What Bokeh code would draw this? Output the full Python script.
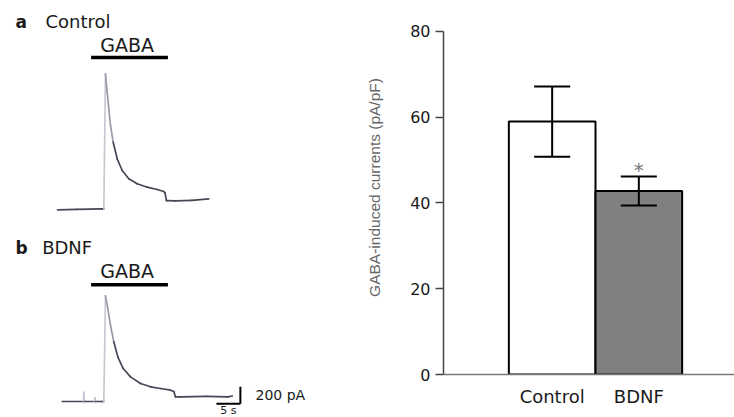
from bokeh.plotting import figure
from bokeh.models import Range1d, Label, FixedTicker
from bokeh.layouts import row
from bokeh.embed import file_html
from bokeh.resources import INLINE

# ---------------- data ----------------
# Whole-cell traces: time (s) and current (pA)
TRACE_A_T = [0.0, 4.0, 9.3, 9.65, 10.0, 10.35, 10.69, 11.04, 11.6, 12.44, 13.48,
             14.85, 16.6, 18.69, 20.77, 22.15, 22.4, 22.7, 24.6, 28.0, 31.5]
TRACE_A_I = [0, 5, 10, 10, 1600, 1383, 1188, 992, 795, 600, 462,
             365, 306, 266, 239, 215, 200, 109, 105, 110, 129]

TRACE_B_T = [1.0, 5.4, 5.5, 5.6, 7.7, 7.8, 7.9, 9.3, 9.65, 10.0, 10.48, 11.04,
             11.73, 12.56, 13.69, 15.21, 17.29, 19.38, 21.46, 23.54, 24.23,
             24.58, 25.6, 31.0, 35.5, 36.4]
TRACE_B_I = [0, 0, 109, 0, 0, 44, 0, 0, 0, 1243, 1094, 897,
             702, 526, 388, 290, 212, 173, 153, 133, 118,
             55, 55, 60, 55, 65]

GABA_WINDOW = [7.0, 23.0]     # s, drug application bar
SCALE_T = 5                   # s
SCALE_I = 200                 # pA

# Bar chart
CATEGORIES = ["Control", "BDNF"]
MEANS = [59.0, 42.8]
SEMS = [8.2, 3.4]
Y_TICKS = [0, 20, 40, 60, 80]

# ---------------- styles ----------------
DARK = "#474755"
MID = "#9a9aa8"
LIGHT = "#c8c8d2"
TXT = "#1a1a1a"
SANS = "DejaVu Sans"

# ---------------- left panel: traces ----------------
left = figure(width=340, height=417, output_backend="svg", toolbar_location=None,
              x_range=Range1d(-11.875, 58.958), y_range=Range1d(-2443.5, 2462.4),
              x_axis_location=None, y_axis_location=None, min_border=0)
left.frame_align = False
left.extra_y_ranges = {"b": Range1d(-188.2, 4717.6)}
left.grid.visible = False
left.outline_line_color = None


def seg_colors(n, mid_rng, light_rngs):
    cols = []
    for i in range(n - 1):
        c = DARK
        if mid_rng[0] <= i < mid_rng[1]:
            c = MID
        for a, b in light_rngs:
            if a <= i < b:
                c = LIGHT
        cols.append(c)
    return cols


def draw_trace(t, cur, cols, rname="default"):
    left.segment(x0=t[:-1], y0=cur[:-1], x1=t[1:], y1=cur[1:],
                 line_color=cols, line_width=1.7, line_cap="round",
                 y_range_name=rname)


draw_trace(TRACE_A_T, TRACE_A_I, seg_colors(len(TRACE_A_T), (4, 8), [(3, 4)]))
draw_trace(TRACE_B_T, TRACE_B_I,
           seg_colors(len(TRACE_B_T), (9, 12), [(1, 3), (4, 6), (8, 9)]), "b")

# GABA application bars
BAR_Y_A = 1792
BAR_Y_B = 1373
left.segment(x0=[GABA_WINDOW[0]], x1=[GABA_WINDOW[1]], y0=[BAR_Y_A], y1=[BAR_Y_A],
             line_color="black", line_width=3.5)
left.segment(x0=[GABA_WINDOW[0]], x1=[GABA_WINDOW[1]], y0=[BAR_Y_B], y1=[BAR_Y_B],
             line_color="black", line_width=3.5, y_range_name="b")

# scale bar (panel b)
SB_T, SB_I = 38.1, -27
left.segment(x0=[SB_T - SCALE_T, SB_T], x1=[SB_T, SB_T],
             y0=[SB_I, SB_I], y1=[SB_I, SB_I + SCALE_I],
             line_color="black", line_width=2, y_range_name="b")

gaba_mid = (GABA_WINDOW[0] + GABA_WINDOW[1]) / 2 - 0.5
labels = [
    dict(x=-8.75, y=2215, text="a", font_style="bold", size="17px", rn="default", align="left", base="alphabetic"),
    dict(x=-2.5, y=2215, text="Control", font_style="normal", size="18px", rn="default", align="left", base="alphabetic"),
    dict(x=gaba_mid, y=1944, text="GABA", font_style="normal", size="19px", rn="default", align="center", base="alphabetic"),
    dict(x=-8.75, y=1808, text="b", font_style="bold", size="17px", rn="b", align="left", base="alphabetic"),
    dict(x=-3.2, y=1808, text="BDNF", font_style="normal", size="18px", rn="b", align="left", base="alphabetic"),
    dict(x=gaba_mid, y=1541, text="GABA", font_style="normal", size="19px", rn="b", align="center", base="alphabetic"),
    dict(x=41.25, y=76, text="200 pA", font_style="normal", size="14px", rn="b", align="left", base="middle"),
    dict(x=SB_T - SCALE_T / 2, y=-30, text="5 s", font_style="normal", size="11px", rn="b", align="center", base="top"),
]
for d in labels:
    left.add_layout(Label(x=d["x"], y=d["y"], text=d["text"], y_range_name=d["rn"],
                          text_font=SANS, text_font_size=d["size"],
                          text_font_style=d["font_style"], text_color=TXT,
                          text_align=d["align"], text_baseline=d["base"]))

# ---------------- right panel: bar chart ----------------
right = figure(width=394, height=417, output_backend="svg", toolbar_location=None,
               x_range=Range1d(-0.754, 2.604), y_range=Range1d(0, 87.23),
               min_border_left=103, min_border_right=0, min_border_top=0,
               min_border_bottom=43)
right.frame_align = False
right.grid.visible = False
right.outline_line_color = None

xs = [i + 0.5 for i in range(len(CATEGORIES))]
right.vbar(x=xs, top=MEANS, bottom=0, width=1.0,
           fill_color=["white", "#808080"], line_color="black", line_width=2)

hi = [m + s for m, s in zip(MEANS, SEMS)]
lo = [m - s for m, s in zip(MEANS, SEMS)]
CAP = 0.208
right.segment(x0=xs, x1=xs, y0=lo, y1=hi, line_color="black", line_width=2)
right.segment(x0=[x - CAP for x in xs], x1=[x + CAP for x in xs], y0=hi, y1=hi,
              line_color="black", line_width=2)
right.segment(x0=[x - CAP for x in xs], x1=[x + CAP for x in xs], y0=lo, y1=lo,
              line_color="black", line_width=2)

right.add_layout(Label(x=xs[1], y=hi[1] + 1.5, text="*", text_font=SANS,
                       text_font_size="20px", text_color="#777777",
                       text_align="center", text_baseline="alphabetic"))

xa = right.xaxis[0]
xa.ticker = FixedTicker(ticks=xs)
xa.major_label_overrides = {x: c for x, c in zip(xs, CATEGORIES)}
xa.major_tick_line_color = None
xa.minor_tick_line_color = None
xa.axis_line_color = "#777777"
xa.axis_line_width = 1.5
xa.major_label_text_font = SANS
xa.major_label_text_font_size = "18px"
xa.major_label_text_color = TXT
xa.major_label_standoff = 5

ya = right.yaxis[0]
ya.ticker = FixedTicker(ticks=Y_TICKS)
ya.bounds = (0, 80)
ya.major_tick_out = 8
ya.major_tick_in = 0
ya.minor_tick_line_color = None
ya.axis_line_color = "#444444"
ya.axis_line_width = 1.5
ya.major_tick_line_color = "#444444"
ya.major_tick_line_width = 1.5
ya.major_label_text_font = SANS
ya.major_label_text_font_size = "16px"
ya.major_label_text_color = TXT
ya.axis_label = "GABA-induced currents (pA/pF)"
ya.axis_label_text_font = "Liberation Sans"
ya.axis_label_text_font_size = "15.5px"
ya.axis_label_text_font_style = "normal"
ya.axis_label_text_color = "#666666"
ya.axis_label_standoff = 24

layout = row(left, right)
open("out.html", "w").write(file_html(layout, INLINE))
